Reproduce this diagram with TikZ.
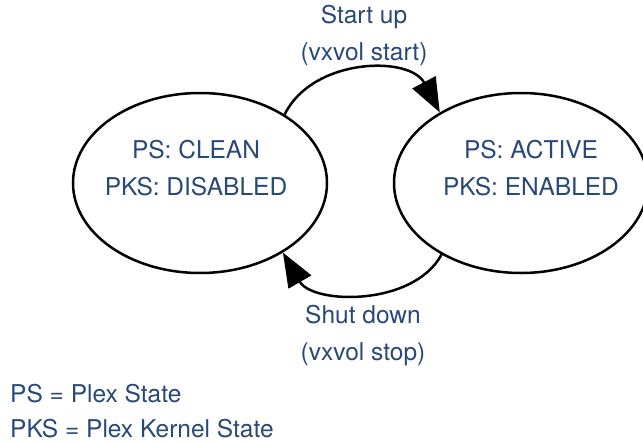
\documentclass[tikz,border=0pt]{standalone}
\usepackage{fontspec}
\setmainfont{TeX Gyre Heros}
\usetikzlibrary{arrows.meta,shapes.geometric}
\definecolor{txtblue}{RGB}{40,72,120}
\begin{document}
\begin{tikzpicture}[x=1pt,y=-1pt,
  state/.style={draw=black,line width=2.5pt,ellipse,minimum width=254pt,minimum height=180pt,inner sep=0pt},
  lbl/.style={text=txtblue,font=\fontsize{24.5}{30}\selectfont,anchor=base,inner sep=0pt},
  legend/.style={lbl,anchor=base west},
  trans/.style={draw=black,line width=2.5pt,-{Triangle[length=34pt,width=26pt]}}]
\useasboundingbox (0,0) rectangle (643,442);
\begin{scope}
\clip (0,0) rectangle (643,442);
\node[state] (L) at (200,183) {};
\node[state] (R) at (521,183) {};
\end{scope}
\node[lbl] (l1) at (196,158) {PS: CLEAN};
\node[lbl] (l2) at (196,195) {PKS: DISABLED};
\node[lbl] (r1) at (531,158) {PS: ACTIVE};
\node[lbl] (r2) at (531,195) {PKS: ENABLED};
\node[lbl] (t1) at (364,23) {Start up};
\node[lbl] (t2) at (364,60) {(vxvol start)};
\node[lbl] (b1) at (363,323) {Shut down};
\node[lbl] (b2) at (363,360) {(vxvol stop)};
\node[legend] (g1) at (10,402) {PS = Plex State};
\node[legend] (g2) at (10,437) {PKS = Plex Kernel State};
\draw[trans] (L.39.5) .. controls +(28,-57) and +(-30,-57) .. (R.139.5);
\draw[trans] (R.222.5) .. controls +(-28,52) and +(30,52) .. (L.320);
\end{tikzpicture}
\end{document}
